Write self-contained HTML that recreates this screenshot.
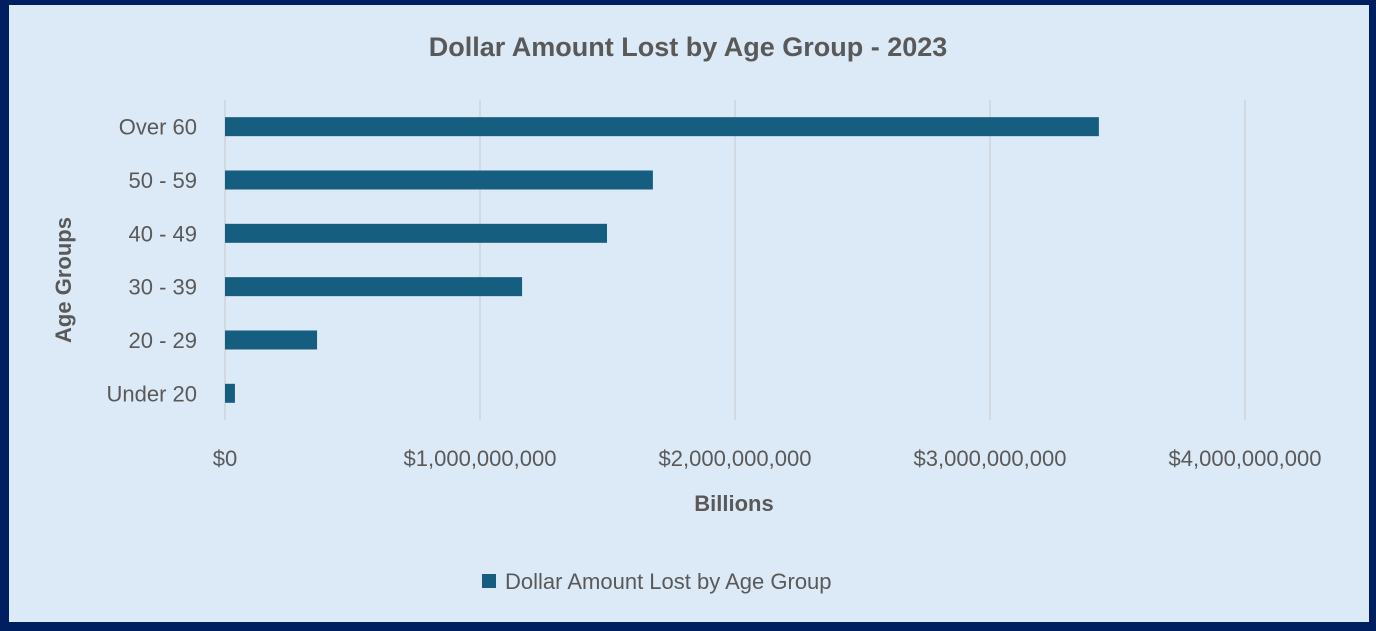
<!DOCTYPE html>
<html><head><meta charset="utf-8"><style>
html,body{margin:0;padding:0;background:#001f60;}
body{width:1376px;height:631px;position:relative;overflow:hidden;font-family:"Liberation Sans",sans-serif;}
#panel{position:absolute;left:9px;top:5px;width:1360px;height:617px;background:#dce9f6;}
svg{position:absolute;left:0;top:0;}
</style></head><body>
<div id="panel"></div>
<svg id="chart" width="1376" height="631">
<text x="688" y="56" text-anchor="middle" font-size="27" font-weight="bold" fill="#595959">Dollar Amount Lost by Age Group - 2023</text>
<g id="grid"></g><g id="bars"></g><g id="ylabels"></g><g id="xlabels"></g>
<text x="734" y="511" text-anchor="middle" font-size="22" font-weight="bold" fill="#595959">Billions</text>
<text transform="translate(71,280) rotate(-90)" text-anchor="middle" font-size="22" font-weight="bold" fill="#595959">Age Groups</text>
<g>
<rect x="482" y="574" width="14" height="14" fill="#155e7f"></rect>
<text x="505" y="589" font-size="22" fill="#595959">Dollar Amount Lost by Age Group</text>
</g>
</svg>
<script>
const categories=["Over 60","50 - 59","40 - 49","30 - 39","20 - 29","Under 20"];
const values=[3.427e9,1.678e9,1.498e9,1.165e9,0.361e9,0.039e9];
const ticks=[0,1e9,2e9,3e9,4e9];
const tickLabels=["$0","$1,000,000,000","$2,000,000,000","$3,000,000,000","$4,000,000,000"];
const NS="http://www.w3.org/2000/svg";
const x0=225,pxPer=255/1e9,top0=100,bandH=53.33;
function xs(v){return x0+v*pxPer;}
function yc(i){return top0+bandH*(i+0.5);}
function mk(tag,attrs,parent){const e=document.createElementNS(NS,tag);for(const k in attrs)e.setAttribute(k,attrs[k]);document.getElementById(parent).appendChild(e);return e;}
ticks.forEach((t,i)=>{
 const l=mk('line',{x1:xs(t),x2:xs(t),y1:100,y2:420,stroke:'#d0d4d8','stroke-width':1.5},'grid');
 
 
 const tx=mk('text',{x:xs(t),y:466,'text-anchor':'middle','font-size':22,fill:'#595959'},'xlabels');
 tx.textContent=tickLabels[i];
 
 
});
categories.forEach((c,i)=>{
 const r=mk('rect',{x:x0,y:yc(i)-9.5,width:xs(values[i])-x0,height:19,fill:'#155e7f'},'bars');
 
 
 const t=mk('text',{x:197,y:yc(i)+8,'text-anchor':'end','font-size':22,fill:'#595959'},'ylabels');
 t.textContent=c;
 
 
});
</script>
</body></html>
